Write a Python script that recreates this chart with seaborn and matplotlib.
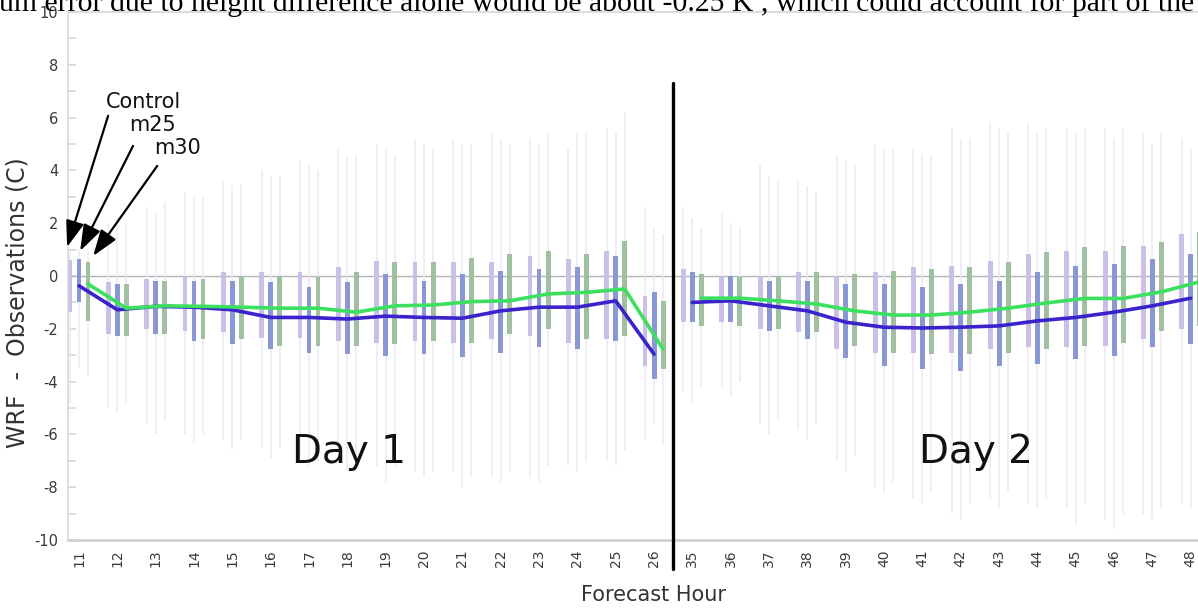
import numpy as np
import pandas as pd
import matplotlib
matplotlib.use("Agg")
import matplotlib.pyplot as plt
import seaborn as sns

# Forecast hours (day 1 and day 2)
hours = [11, 12, 13, 14, 15, 16, 17, 18, 19, 20, 21, 22, 23, 24, 25, 26,
         35, 36, 37, 38, 39, 40, 41, 42, 43, 44, 45, 46, 47, 48]
day = [1] * 16 + [2] * 14
models = ["Control", "m25", "m30"]

# Box statistics: whisker low, lower quartile, upper quartile, whisker high
ctrl_lo = [-4.8, -5.0, -5.6, -6.0, -6.2, -6.5, -6.8, -7.0, -7.2, -7.4, -7.4, -7.6, -7.6, -7.2, -7.0, -6.2,
           -4.4, -4.2, -5.6, -5.8, -7.0, -8.0, -8.4, -9.0, -8.4, -8.6, -8.8, -9.2, -9.0, -8.6]
ctrl_q1 = [-1.38, -2.2, -2.0, -2.1, -2.14, -2.33, -2.33, -2.45, -2.52, -2.45, -2.52, -2.39, -2.26, -2.52, -2.39, -3.4,
           -1.76, -1.76, -2.0, -2.14, -2.77, -2.9, -2.9, -2.9, -2.77, -2.7, -2.7, -2.64, -2.39, -2.0]
ctrl_q3 = [0.62, -0.24, -0.11, 0.0, 0.14, 0.14, 0.14, 0.33, 0.58, 0.52, 0.52, 0.52, 0.77, 0.65, 0.96, -0.75,
           0.27, 0.0, 0.0, 0.14, 0.0, 0.14, 0.33, 0.39, 0.58, 0.83, 0.96, 0.96, 1.15, 1.59]
ctrl_hi = [1.0, 2.0, 2.6, 3.2, 3.6, 4.0, 4.4, 4.8, 5.0, 5.2, 5.2, 5.4, 5.2, 4.8, 5.6, 2.6,
           2.6, 2.4, 4.2, 3.6, 4.6, 5.0, 4.8, 5.6, 5.8, 5.8, 5.6, 5.6, 5.4, 5.2]

m25_lo = [-3.5, -5.2, -6.0, -6.3, -6.6, -6.9, -7.2, -7.4, -7.8, -7.6, -8.0, -7.8, -7.8, -7.4, -7.2, -5.6,
          -4.8, -4.6, -6.0, -6.2, -7.4, -8.2, -8.6, -9.2, -8.8, -8.8, -9.4, -9.6, -9.2, -8.8]
m25_q1 = [-1.0, -2.26, -2.2, -2.45, -2.58, -2.77, -2.9, -2.96, -3.02, -2.96, -3.05, -2.9, -2.7, -2.77, -2.45, -3.9,
          -1.76, -1.73, -2.07, -2.39, -3.09, -3.4, -3.53, -3.6, -3.4, -3.34, -3.15, -3.02, -2.7, -2.58]
m25_q3 = [0.65, -0.3, -0.18, -0.18, -0.18, -0.24, -0.43, -0.24, 0.08, -0.18, 0.08, 0.2, 0.27, 0.33, 0.77, -0.62,
          0.14, 0.0, -0.18, -0.18, -0.3, -0.3, -0.43, -0.3, -0.18, 0.14, 0.39, 0.46, 0.65, 0.83]
m25_hi = [1.0, 2.2, 2.4, 3.0, 3.4, 3.8, 4.2, 4.5, 4.8, 5.0, 5.0, 5.2, 5.0, 5.4, 5.4, 1.8,
          2.2, 2.0, 3.8, 3.4, 4.4, 4.8, 4.6, 5.2, 5.6, 5.4, 5.4, 5.2, 5.0, 4.8]

m30_lo = [-3.8, -4.8, -5.5, -6.0, -6.2, -6.5, -7.0, -7.2, -7.2, -7.4, -7.6, -7.4, -7.2, -7.0, -6.6, -6.4,
          -4.2, -4.0, -5.4, -5.6, -6.8, -7.8, -8.2, -8.6, -8.2, -8.4, -8.6, -9.0, -8.8, -8.4]
m30_q1 = [-1.7, -2.26, -2.2, -2.4, -2.4, -2.64, -2.64, -2.64, -2.58, -2.45, -2.52, -2.2, -2.0, -2.39, -2.26, -3.53,
          -1.88, -1.88, -2.0, -2.14, -2.64, -2.9, -2.96, -2.96, -2.9, -2.77, -2.64, -2.52, -2.07, -1.88]
m30_q3 = [0.52, -0.3, -0.18, -0.11, 0.0, 0.0, -0.05, 0.14, 0.52, 0.52, 0.7, 0.83, 0.96, 0.83, 1.34, -0.94,
          0.08, -0.05, 0.0, 0.14, 0.08, 0.2, 0.27, 0.33, 0.52, 0.9, 1.09, 1.15, 1.28, 1.66]
m30_hi = [0.9, 2.0, 2.8, 3.0, 3.5, 3.8, 4.0, 4.6, 4.6, 4.8, 5.0, 5.0, 5.4, 5.4, 6.2, 1.6,
          1.8, 1.8, 3.6, 3.2, 4.2, 4.8, 4.6, 5.2, 5.4, 5.6, 5.6, 5.6, 5.4, 5.2]

# Mean error lines
m25_mean = [-0.37, -1.28, -1.15, -1.18, -1.28, -1.57, -1.57, -1.63, -1.52, -1.57, -1.6, -1.32, -1.18, -1.18, -0.94, -2.96,
            -1.0, -0.94, -1.13, -1.32, -1.75, -1.94, -1.97, -1.94, -1.89, -1.7, -1.57, -1.37, -1.13, -0.84]
m30_mean = [-0.3, -1.22, -1.13, -1.15, -1.18, -1.22, -1.22, -1.37, -1.13, -1.1, -0.97, -0.94, -0.68, -0.62, -0.49, -2.77,
            -0.84, -0.84, -0.94, -1.06, -1.32, -1.48, -1.48, -1.37, -1.22, -1.02, -0.85, -0.85, -0.6, -0.22]

box_colors = {"Control": "#c6baee", "m25": "#7d8fe0", "m30": "#9cc59d"}
line_colors = {"m25": "#3a22cc", "m30": "#3be05e"}

stats = {
    "Control": (ctrl_lo, ctrl_q1, ctrl_q3, ctrl_hi),
    "m25": (m25_lo, m25_q1, m25_q3, m25_hi),
    "m30": (m30_lo, m30_q1, m30_q3, m30_hi),
}

# Long table: five values per box reproduce its quartiles and whisker ends
rows = []
for i, h in enumerate(hours):
    for m in models:
        lo, q1, q3, hi = stats[m]
        for v in (lo[i], q1[i], q1[i], q3[i], hi[i]):
            rows.append({"hour": str(h), "model": m, "value": v})
box_df = pd.DataFrame(rows)

sns.set_style("white")
plt.rcParams["font.family"] = ["DejaVu Sans"]
plt.rcParams["axes.unicode_minus"] = False

W, H = 1198, 610
fig = plt.figure(figsize=(W / 100, H / 100), dpi=100)
ax = fig.add_axes([68 / W, 1 - 540 / H, 1 - 68 / W, 528 / H])

ax.axhline(0, color="#b4b4b4", lw=1.0, zorder=1)

width = 0.705
gap = 0.45
sns.boxplot(
    data=box_df, x="hour", y="value", hue="model",
    order=[str(h) for h in hours], hue_order=models, palette=box_colors,
    width=width, gap=gap, whis=(0, 100), fliersize=0, linewidth=1,
    boxprops=dict(edgecolor="none", linewidth=0),
    whiskerprops=dict(color="#ebe8f7", linewidth=1.1),
    capprops=dict(visible=False),
    medianprops=dict(visible=False),
    legend=False, ax=ax, zorder=2,
)

# Mean lines sit on the m25 and m30 boxes of each hour
pos = np.arange(len(hours))
slot = width / len(models)
line_df = pd.DataFrame({
    "pos": np.concatenate([pos, pos + slot]),
    "value": m25_mean + m30_mean,
    "model": ["m25"] * len(hours) + ["m30"] * len(hours),
    "day": day + day,
})
for m in ["m25", "m30"]:
    sub = line_df[line_df["model"] == m]
    sns.lineplot(data=sub, x="pos", y="value", units="day", estimator=None,
                 color=line_colors[m], lw=2.6, ax=ax, zorder=4)

ax.set_xlim(-0.287, 29.19)
ax.set_ylim(-10, 10)

# Day 1 / Day 2 divider
ax.axvline(15.5, ymin=-0.055, ymax=0.865, color="black", lw=2.4,
           clip_on=False, zorder=5)

ax.set_xticks(pos)
ax.set_xticklabels([str(h) for h in hours], rotation=90)
ax.tick_params(axis="x", length=0, labelsize=10, labelcolor="#3a3a3a", pad=7)
ax.set_yticks(range(-10, 11, 2))
ax.set_yticks(range(-10, 11, 1), minor=True)
ax.tick_params(axis="y", which="both", direction="in", length=6, width=1.2,
               color="#d6d6d6", labelsize=10.5, labelcolor="#3a3a3a", pad=7, left=True)

ax.spines["right"].set_visible(False)
ax.spines["left"].set_color("#d8d8d8")
ax.spines["left"].set_linewidth(1.2)
ax.spines["bottom"].set_color("#d0d0d0")
ax.spines["bottom"].set_linewidth(2)
ax.spines["top"].set_color("#dcdcdc")
ax.spines["top"].set_linewidth(1.5)

ax.set_xlabel("Forecast Hour", fontsize=15, color="#333333")
ax.xaxis.set_label_coords(0.518, -0.085)
ax.set_ylabel("WRF  -  Observations (C)", fontsize=17, color="#333333")
ax.yaxis.set_label_coords(-0.034, 0.449)

ax.text(7.04, -6.67, "Day 1", fontsize=28, ha="center", va="center", color="#111111")
ax.text(23.4, -6.67, "Day 2", fontsize=28, ha="center", va="center", color="#111111")

# Arrows naming the three boxes of each hour
labels = [("Control", (1.67, 6.6), (0.76, 6.07), (-0.31, 1.1)),
          ("m25", (1.93, 5.73), (1.41, 4.93), (0.03, 0.95)),
          ("m30", (2.58, 4.86), (2.04, 4.17), (0.37, 0.76))]
for name, txt, tail, tip in labels:
    ax.text(*txt, name, fontsize=15, ha="center", va="center", color="#111111", zorder=6)
    ax.annotate("", xy=tip, xytext=tail, annotation_clip=False,
                arrowprops=dict(arrowstyle="-|>,head_length=0.8,head_width=0.28",
                                color="black", lw=1.6, mutation_scale=20,
                                shrinkA=0, shrinkB=0), zorder=6)

fig.text(-0.001, 1 - 11 / H,
         "um error due to height difference alone would be about -0.25 K , which could account for part of the",
         fontsize=21.4, family="Liberation Serif", va="baseline", ha="left", color="black")

fig.savefig("out.png", dpi=100)
